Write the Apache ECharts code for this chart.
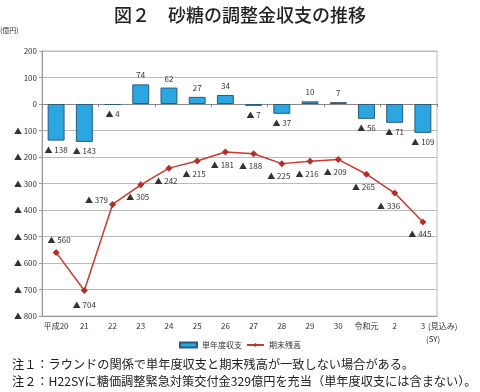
<!DOCTYPE html>
<html><head><meta charset="utf-8">
<script src="https://cdn.jsdelivr.net/npm/echarts@6/dist/echarts.min.js"></script>
<style>html,body{margin:0;padding:0;background:#fff}#c{width:480px;height:392px}</style>
</head><body><div id="c"></div>
<script>
var categories = ['平成20','21','22','23','24','25','26','27','28','29','30','令和元','2','3'];
var annualBalance = [-138,-143,-4,74,62,27,34,-7,-37,10,7,-56,-71,-109];
var endBalance = [-560,-704,-379,-305,-242,-215,-181,-188,-225,-216,-209,-265,-336,-445];
var yTicks = {min:-800, max:200, interval:100};
var seriesNames = ['単年度収支','期末残高'];

var FONT = '"Noto Sans CJK JP", sans-serif';
function fmt(v){ v = Number(v); return v < 0 ? '▲ ' + (-v) : String(v); }

var barData = annualBalance.map(function(v){
  return {value:v, label:{position: v < 0 ? 'bottom' : 'top'}};
});
var lineData = endBalance.map(function(v,i){
  var lab = {position:'bottom', offset:[-3,0]};
  if (i === 0) lab = {position:'top', offset:[3,0]};
  if (i === 2) lab = {position:'left', offset:[4,-4]};
  if (i === 1) lab = {position:'bottom', offset:[0,2]};
  if (i === 12) lab = {position:'bottom', offset:[-6,0]};
  return {value:v, label:lab};
});

var chart = echarts.init(document.getElementById('c'));
chart.setOption({
  animation:false,
  textStyle:{fontFamily:FONT},
  title:{text:'図２　砂糖の調整金収支の推移', left:'center', top:1,
    textStyle:{fontSize:18, fontWeight:500, color:'#222', fontFamily:FONT}},
  grid:{left:42, right:43, top:51, bottom:76, show:true, borderColor:'#bbb', borderWidth:1},
  legend:{bottom:38, left:'center', itemGap:4, itemWidth:17, itemHeight:5,
    textStyle:{fontSize:8, color:'#333', fontFamily:FONT},
    data:[{name:seriesNames[0], icon:'rect'}, {name:seriesNames[1]}]},
  xAxis:[{
    type:'category', data:categories, position:'bottom',
    axisLine:{onZero:false, lineStyle:{color:'#999'}},
    axisTick:{show:false},
    axisLabel:{fontSize:8, color:'#333', margin:6, interval:0}
  },{
    type:'category', data:categories, position:'bottom',
    axisLine:{onZero:true, lineStyle:{color:'#888'}},
    axisTick:{show:true, length:3, lineStyle:{color:'#888'}},
    axisLabel:{show:false}
  }],
  yAxis:{
    type:'value', min:yTicks.min, max:yTicks.max, interval:yTicks.interval,
    axisLine:{show:true, lineStyle:{color:'#999'}},
    axisTick:{show:true, length:3, lineStyle:{color:'#999'}},
    splitLine:{lineStyle:{color:'#bbb'}},
    axisLabel:{fontSize:8, color:'#333', margin:5, formatter:fmt}
  },
  series:[{
    name:seriesNames[0], type:'bar', data:barData, barWidth:'60%', xAxisIndex:0,
    itemStyle:{color:'#2aa7e1', borderColor:'#2b5b80', borderWidth:1},
    label:{show:true, fontSize:8, color:'#333', distance:5, formatter:function(p){return fmt(p.value);}}
  },{
    name:seriesNames[1], type:'line', data:lineData, xAxisIndex:0,
    symbol:'diamond', symbolSize:7,
    lineStyle:{color:'#c8392e', width:1.5},
    itemStyle:{color:'#b22f2a'},
    label:{show:true, fontSize:8, color:'#333', distance:5, formatter:function(p){return fmt(p.value);}}
  }],
  graphic:[
    {type:'text', left:0, top:27, style:{text:'(億円)', fill:'#333', font:'7px '+FONT}},
    {type:'text', left:428, top:322, style:{text:'(見込み)', fill:'#333', font:'8px '+FONT}},
    {type:'text', left:426, top:335, style:{text:'(SY)', fill:'#333', font:'8px '+FONT}},
    {type:'text', left:12, top:358, style:{text:'注１：ラウンドの関係で単年度収支と期末残高が一致しない場合がある。', fill:'#222', font:'12.2px '+FONT}},
    {type:'text', left:12, top:375, style:{text:'注２：H22SYに糖価調整緊急対策交付金329億円を充当（単年度収支には含まない）。', fill:'#222', font:'12.2px '+FONT}}
  ]
});
</script></body></html>
